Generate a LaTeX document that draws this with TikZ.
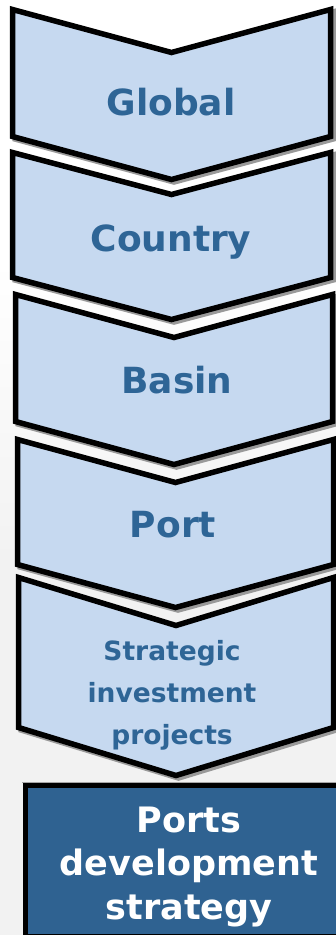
\documentclass[tikz,border=0pt]{standalone}
\usepackage{fontspec}
\setmainfont{DejaVu Sans}

\definecolor{chevfill}{RGB}{198,217,240}
\definecolor{chevtext}{RGB}{46,101,150}
\definecolor{stratfill}{RGB}{47,98,145}
\definecolor{bggrey}{RGB}{242,242,242}

% chevron: left x, right x, top y, side height, notch depth
\newcommand\drawchevron[5]{%
  \draw[chevshadow, xshift=2.5pt, yshift=-2.5pt]
    (#1,#3) -- ({(#1+#2)/2},{#3+#5}) -- (#2,#3) -- (#2,{#3+#4})
    -- ({(#1+#2)/2},{#3+#4+#5}) -- (#1,{#3+#4}) -- cycle;
  \draw[chevbox]
    (#1,#3) -- ({(#1+#2)/2},{#3+#5}) -- (#2,#3) -- (#2,{#3+#4})
    -- ({(#1+#2)/2},{#3+#4+#5}) -- (#1,{#3+#4}) -- cycle;}

\tikzset{
  chevbox/.style={draw=black, fill=chevfill, line width=5.5pt, miter limit=20},
  chevshadow/.style={draw=black!40, fill=black!40, line width=5.5pt, miter limit=20},
  levellabel/.style={anchor=base, text=chevtext, font=\bfseries\fontsize{36}{44}\selectfont, inner sep=0pt},
  smalllabel/.style={anchor=center, align=center, text=chevtext, font=\bfseries\fontsize{26.5}{42}\selectfont, inner sep=0pt},
  strategybox/.style={draw=black, fill=stratfill, line width=5pt},
  strategylabel/.style={anchor=center, align=center, text=white, font=\bfseries\fontsize{35}{43.5}\selectfont, inner sep=0pt}
}

\begin{document}
\begin{tikzpicture}[x=1pt, y=-1pt]
  \useasboundingbox (0,0) rectangle (336,935);
  \clip (0,0) rectangle (336,935);

  % page background: white at the top fading to light grey
  \fill[white] (0,0) rectangle (336,260);
  \shade[top color=white, bottom color=bggrey] (0,260) rectangle (336,560);
  \fill[bggrey] (0,560) rectangle (336,935);

  % stacked chevrons
  \drawchevron{12.5}{330.5}{9.5}{127}{43}
  \drawchevron{12.5}{330.5}{152.5}{125}{42}
  \drawchevron{15.5}{332.5}{294.5}{127}{43}
  \drawchevron{17.5}{333.5}{439.5}{125}{43}
  \drawchevron{18.5}{333.5}{577.5}{150}{48}

  \node[levellabel] (global)  at (171,115) {Global};
  \node[levellabel] (country) at (171,251) {Country};
  \node[levellabel] (basin)   at (177,393) {Basin};
  \node[levellabel] (port)    at (173,537) {Port};
  \node[smalllabel] (projects) at (172,695) {Strategic\\investment\\projects};

  % resulting strategy box
  \draw[black!35, line width=1pt] (22,782.5) -- (350,782.5);
  \draw[strategybox] (25,785.5) rectangle (350,936.5);
  \node[strategylabel] (strategy) at (189,867) {Ports\\development\\strategy};
\end{tikzpicture}
\end{document}
